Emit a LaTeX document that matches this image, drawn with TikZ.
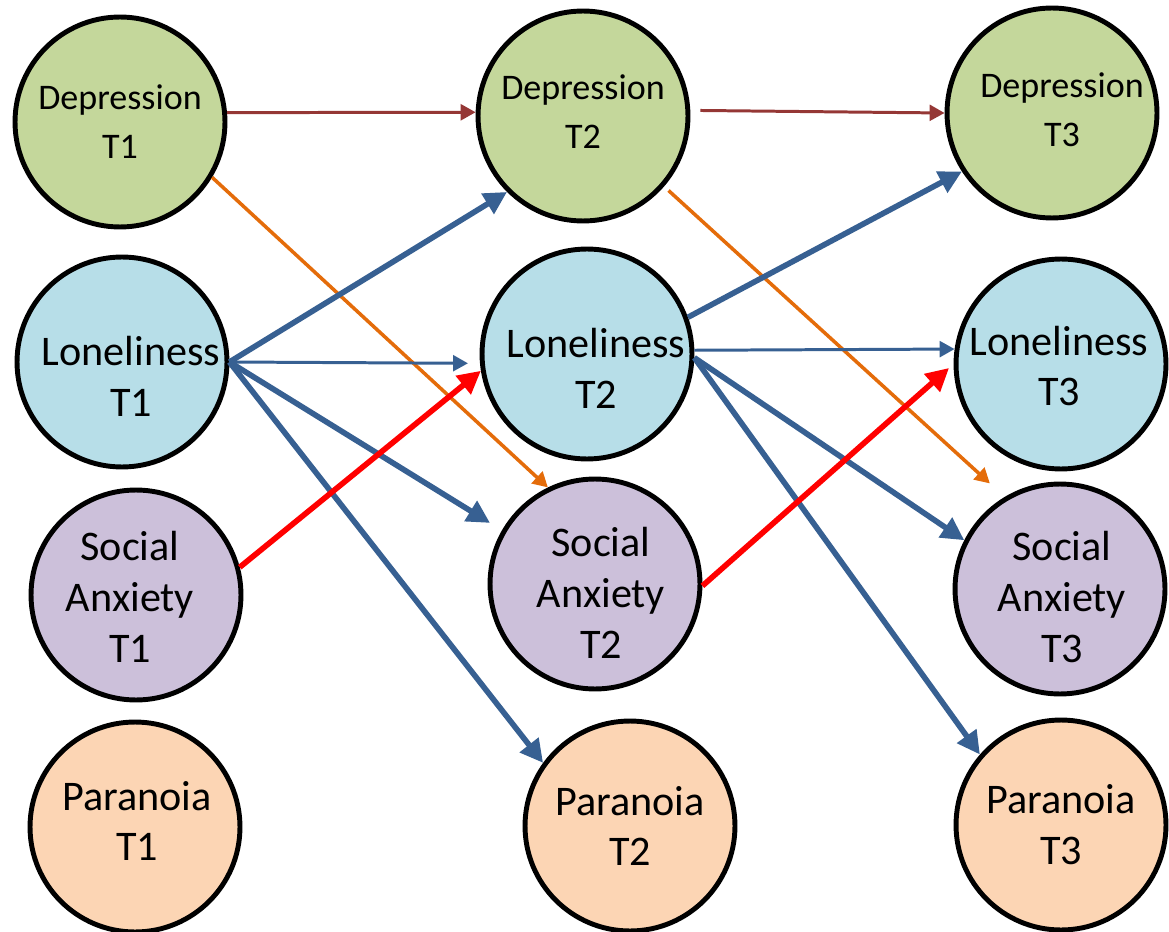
\documentclass[tikz,border=0pt]{standalone}
\usepackage{fontspec}
\setmainfont{Carlito}
\usetikzlibrary{arrows.meta}

\definecolor{depfill}{HTML}{C4D79B}
\definecolor{lonfill}{HTML}{B7DEE8}
\definecolor{sanfill}{HTML}{CCC0DA}
\definecolor{parfill}{HTML}{FCD5B4}
\definecolor{pathbrown}{HTML}{953735}
\definecolor{pathorange}{HTML}{E46C0A}
\definecolor{pathblue}{HTML}{376092}
\definecolor{pathred}{HTML}{FF0000}

\begin{document}
\begin{tikzpicture}[x=0.02cm,y=-0.02cm,
    var/.style={circle,draw=black,line width=2.8pt,minimum size=4.2cm,inner sep=0pt},
    txt/.style={align=center,inner sep=0pt,font=\fontsize{24}{29}\selectfont},
    deptxt/.style={align=center,inner sep=0pt,font=\fontsize{20.5}{28}\selectfont},
    bigarrow/.style={line width=3.2pt,-{Triangle[length=13pt,width=13pt]}},
    smallarrow/.style={line width=1.7pt,-{Triangle[length=8.5pt,width=9pt]}}]
			\useasboundingbox (0,0) rectangle (1169,932);
			
			% T1
			\node[var,fill=depfill,label={[deptxt]center:Depression\\T1}] (dep1) at (120,122) {};
			\node[var,fill=lonfill,label={[txt,xshift=0.18cm,yshift=-0.28cm]center:Loneliness\\T1}] (lon1) at (122,362) {};
			\node[var,fill=sanfill,label={[txt,xshift=-0.12cm,yshift=-0.04cm]center:Social\\Anxiety\\T1}] (san1) at (136,595) {};
			\node[var,fill=parfill,label={[txt,xshift=0.04cm,yshift=0.12cm]center:Paranoia\\T1}] (par1) at (135,827) {};
			
			% T2
			\node[var,fill=depfill,label={[deptxt,yshift=0.08cm]center:Depression\\T2}] (dep2) at (583,116) {};
			\node[var,fill=lonfill,label={[txt,xshift=0.18cm,yshift=-0.28cm]center:Loneliness\\T2}] (lon2) at (587,354) {};
			\node[var,fill=sanfill,label={[txt,xshift=0.12cm,yshift=-0.18cm]center:Social\\Anxiety\\T2}] (san2) at (595,584) {};
			\node[var,fill=parfill,label={[txt]center:Paranoia\\T2}] (par2) at (630,826) {};
			
			% T3
			\node[var,fill=depfill,label={[deptxt,xshift=0.2cm,yshift=0.06cm]center:Depression\\T3}] (dep3) at (1052,113) {};
			\node[var,fill=lonfill,label={[txt,xshift=-0.04cm,yshift=-0.04cm]center:Loneliness\\T3}] (lon3) at (1061,364) {};
			\node[var,fill=sanfill,label={[txt,xshift=0.04cm,yshift=-0.16cm]center:Social\\Anxiety\\T3}] (san3) at (1060,589) {};
			\node[var,fill=parfill,label={[txt]center:Paranoia\\T3}] (par3) at (1061,825) {};
			
			% autoregressive depression
			\draw[smallarrow,pathbrown] (dep1.5) -- (dep2.178);
			\draw[smallarrow,pathbrown,shorten <=0.2cm] (dep2.3) -- (dep3.180);
			
			% depression -> social anxiety
			\draw[smallarrow,pathorange,line width=2pt] (dep1.-31) -- (san2.116);
			\draw[smallarrow,pathorange,line width=2pt,shorten <=0.12cm,shorten >=0.4cm] (dep2.-41) -- (san3.121);
			
			% loneliness T1 -> T2
			\draw[bigarrow,pathblue] (lon1.east) -- (dep2.225);
			\draw[smallarrow,pathblue,shorten >=0.24cm] (lon1.east) -- (lon2.185);
			\draw[bigarrow,pathblue,shorten >=0.28cm] (lon1.east) -- (san2.150);
			\draw[bigarrow,pathblue] (lon1.east) -- (par2.144);
			
			% loneliness T2 -> T3
			\draw[bigarrow,pathblue] (lon2.20) -- (dep3.213);
			\draw[smallarrow,pathblue] (lon2.2) -- (lon3.172);
			\draw[bigarrow,pathblue] (lon2.-2) -- (san3.153);
			\draw[bigarrow,pathblue] (lon2.-2) -- (par3.139);
			
			% social anxiety -> loneliness
			\draw[bigarrow,pathred] (san1.15) -- (lon2.189);
			\draw[bigarrow,pathred,shorten >=0.12cm] (san2.-1) -- (lon3.180);
		\end{tikzpicture}
\end{document}
